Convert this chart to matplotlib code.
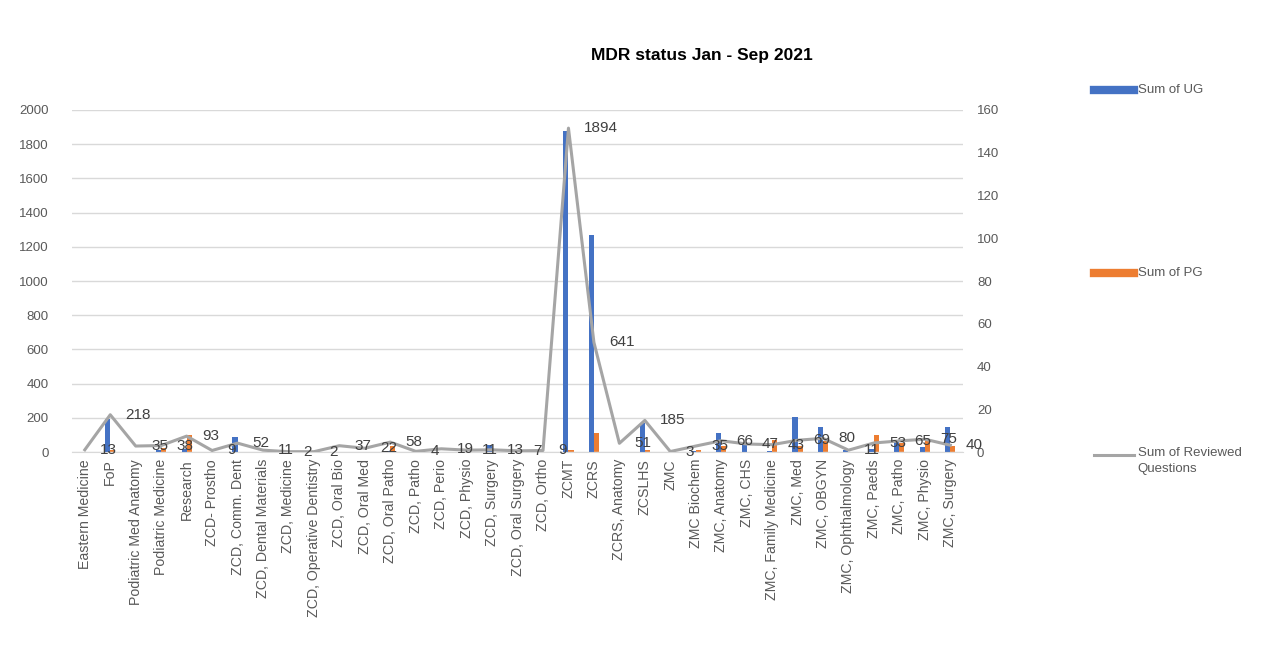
import numpy as np
import matplotlib.pyplot as plt
from matplotlib.lines import Line2D

plt.rcParams['font.family'] = ['Liberation Sans', 'DejaVu Sans']

# categories along the x axis
depts = ['Eastern Medicine', 'FoP', 'Podiatric Med Anatomy', 'Podiatric Medicine', 'Research',
         'ZCD- Prostho', 'ZCD, Comm. Dent', 'ZCD, Dental Materials', 'ZCD, Medicine',
         'ZCD, Operative Dentistry', 'ZCD, Oral Bio', 'ZCD, Oral Med', 'ZCD, Oral Patho',
         'ZCD, Patho', 'ZCD, Perio', 'ZCD, Physio', 'ZCD, Surgery', 'ZCD, Oral Surgery',
         'ZCD, Ortho', 'ZCMT', 'ZCRS', 'ZCRS, Anatomy', 'ZCSLHS', 'ZMC', 'ZMC Biochem',
         'ZMC, Anatomy', 'ZMC, CHS', 'ZMC, Family Medicine', 'ZMC, Med', 'ZMC, OBGYN',
         'ZMC, Ophthalmology', 'ZMC, Paeds', 'ZMC, Patho', 'ZMC, Physio', 'ZMC, Surgery']

# blue bars (left axis)
ug = [0, 195, 0, 10, 15, 0, 85, 0, 0, 0, 0, 0, 5, 0, 0, 0, 40, 0, 0,
      1880, 1270, 0, 170, 0, 5, 110, 45, 5, 205, 148, 10, 20, 70, 30, 148]
# orange bars (right axis)
pg = [0, 1, 0, 2, 8, 0, 0, 0, 0, 0, 0, 0, 3, 0, 0, 0, 0, 0, 0,
      1, 9, 0, 1, 0, 1, 3, 0, 5.5, 3, 5, 0, 8, 4, 6, 3]
# grey line with labels
reviewed = [13, 218, 35, 38, 93, 9, 52, 11, 2, 2, 37, 22, 58, 4, 19, 11, 13, 7, 9,
            1894, 641, 51, 185, 3, 35, 66, 47, 43, 69, 80, 11, 53, 65, 75, 40]

blue = '#4472c4'
orange = '#ed7d31'
grey = '#a5a5a5'
txt = '#595959'

fig = plt.figure(figsize=(12.71, 6.52), dpi=100)
ax = fig.add_axes([0.0567, 0.3067, 0.701, 0.5246])
ax2 = ax.twinx()

x = np.arange(len(depts))
w = 0.2
ax.bar(x - w / 2, ug, width=w, color=blue, zorder=2)
ax2.bar(x + w / 2, pg, width=w, color=orange, zorder=2)
ax.plot(x, reviewed, color=grey, lw=2.2, zorder=3, solid_joinstyle='round')
for xi, v in zip(x, reviewed):
    ax.annotate(str(v), (xi, v), xytext=(11, 0), textcoords='offset points',
                ha='left', va='center', fontsize=11, color='#404040', zorder=5)

ax.set_zorder(ax2.get_zorder() + 1)
ax.patch.set_visible(False)

ax.set_xlim(-0.5, len(depts) - 0.5)
ax.set_ylim(0, 2000)
ax2.set_ylim(0, 160)
ax.set_yticks(np.arange(0, 2001, 200))
ax2.set_yticks(np.arange(0, 161, 20))
ax.grid(axis='y', color='#d9d9d9', lw=1, zorder=0)
ax.set_axisbelow(True)

for a in (ax, ax2):
    for s in a.spines.values():
        s.set_visible(False)
    a.tick_params(length=0, labelcolor=txt)
    a.tick_params(axis='y', labelsize=9.5)
ax.set_xticks(x)
ax.set_xticklabels(depts, rotation=90, fontsize=10.2, color=txt)
ax.spines['bottom'].set_visible(True)
ax.spines['bottom'].set_color('#d9d9d9')
ax.tick_params(axis='y', pad=17)
ax2.tick_params(axis='y', pad=10)
ax.tick_params(axis='x', pad=5)

fig.text(0.552, 0.915, 'MDR status Jan - Sep 2021', ha='center', va='center',
         fontsize=12.5, fontweight='bold', color='#000000')

# legend spread down the right side
leg = [('Sum of UG', blue, 6, 0.862), ('Sum of PG', orange, 6, 0.581),
       ('Sum of Reviewed\nQuestions', grey, 2.2, 0.302)]
for label, c, lw, yy in leg:
    fig.add_artist(Line2D([0.861, 0.892], [yy, yy], color=c, lw=lw,
                          transform=fig.transFigure))
    fig.text(0.895, yy, label, ha='left', va='top' if '\n' in label else 'center',
             fontsize=9.5, color=txt, linespacing=1.5,
             transform=fig.transFigure).set_y(yy + (0.013 if '\n' in label else 0))

fig.savefig('out.png', dpi=100)
